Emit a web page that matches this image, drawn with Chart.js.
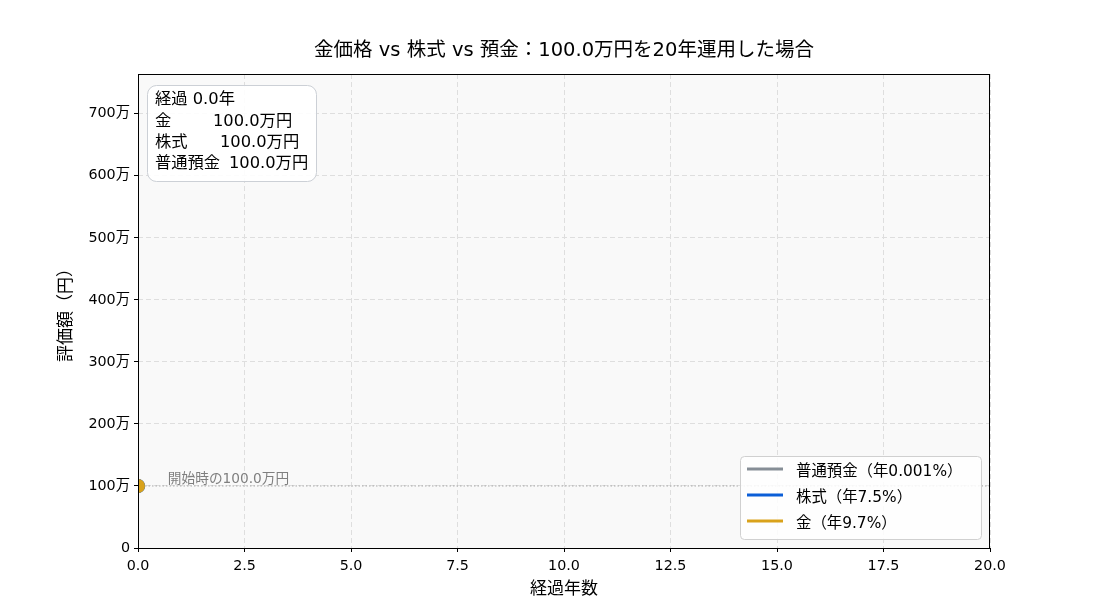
<!DOCTYPE html>
<html>
<head>
<meta charset="utf-8">
<script src="https://cdn.jsdelivr.net/npm/chart.js"></script>
<style>
  html, body { margin: 0; padding: 0; background: #fff; }
  #wrap { width: 1100px; height: 616px; }
</style>
</head>
<body>
<div id="wrap"><canvas id="myChart" width="1100" height="616"></canvas></div>
<script>
    // Data (values in 万円)
    const years = [0];
    const savings = [100.0];
    const stocks = [100.0];
    const gold = [100.0];
    const startValue = 100.0;
    const elapsed = 0.0;
    const yMax = 764;
    const seriesNames = ['普通預金（年0.001%）', '株式（年7.5%）', '金（年9.7%）'];
    const infoLabels = ['金', '株式', '普通預金'];

    const FONT = '"DejaVu Sans", "Noto Sans CJK JP", sans-serif';
    const GRAY = '#868e96', BLUE = '#0b5ed7', GOLD = '#d9a21b';

    const pts = arr => years.map((x, i) => ({ x: x, y: arr[i] }));

    // Background, frame, texts, legend and info box
    const decor = {
        id: 'decor',
        beforeDraw(chart) {
            const { ctx, chartArea: a } = chart;
            ctx.save();
            ctx.fillStyle = '#f9f9f9';
            ctx.fillRect(a.left, a.top, a.right - a.left, a.bottom - a.top);
            ctx.restore();
        },
        afterDraw(chart) {
            const { ctx, chartArea: a, scales } = chart;
            ctx.save();
            // frame
            ctx.strokeStyle = '#000';
            ctx.lineWidth = 1;
            ctx.strokeRect(a.left + 0.5, a.top + 0.5, a.right - a.left - 1, a.bottom - a.top);

            // title
            ctx.fillStyle = '#000';
            ctx.textAlign = 'center';
            ctx.textBaseline = 'middle';
            ctx.font = '19.5px ' + FONT;
            ctx.fillText('金価格 vs 株式 vs 預金：100.0万円を20年運用した場合', (a.left + a.right) / 2, 51);

            // axis titles
            ctx.font = '17px ' + FONT;
            ctx.fillText('経過年数', (a.left + a.right) / 2, 590);
            ctx.save();
            ctx.translate(67, (a.top + a.bottom) / 2);
            ctx.rotate(-Math.PI / 2);
            ctx.fillText('評価額（円）', 0, 0);
            ctx.restore();

            // start annotation
            ctx.fillStyle = '#7f7f7f';
            ctx.textAlign = 'left';
            ctx.font = '13.7px ' + FONT;
            ctx.fillText('開始時の' + startValue.toFixed(1) + '万円', scales.x.getPixelForValue(0.7), scales.y.getPixelForValue(startValue) - 7);

            // info box
            const bx = 147, by = 85, bw = 169, bh = 96;
            ctx.beginPath();
            ctx.roundRect(bx + 0.5, by + 0.5, bw, bh, 9);
            ctx.fillStyle = 'rgba(255,255,255,0.9)';
            ctx.fill();
            ctx.strokeStyle = '#ccd0d6';
            ctx.stroke();
            ctx.fillStyle = '#000';
            ctx.font = '16.3px ' + FONT;
            ctx.fillText('経過 ' + elapsed.toFixed(1) + '年', 155, 100);
            const last = i => i === 0 ? gold[gold.length - 1] : i === 1 ? stocks[stocks.length - 1] : savings[savings.length - 1];
            const valX = [213, 220, 229];
            infoLabels.forEach((lab, i) => {
                const yy = 122 + i * 21;
                ctx.fillText(lab, 155, yy);
                ctx.fillText(last(i).toFixed(1) + '万円', valX[i], yy);
            });

            // legend
            const lx = 740, ly = 456, lw = 241, lh = 83;
            ctx.beginPath();
            ctx.roundRect(lx + 0.5, ly + 0.5, lw, lh, 4);
            ctx.fillStyle = 'rgba(255,255,255,0.85)';
            ctx.fill();
            ctx.strokeStyle = '#d0d0d0';
            ctx.stroke();
            const cols = [GRAY, BLUE, GOLD];
            seriesNames.forEach((n, i) => {
                const yy = 469 + i * 26;
                ctx.strokeStyle = cols[i];
                ctx.lineWidth = 3;
                ctx.beginPath();
                ctx.moveTo(747, yy);
                ctx.lineTo(783, yy);
                ctx.stroke();
                ctx.fillStyle = '#000';
                ctx.font = '15.4px ' + FONT;
                ctx.fillText(n, 796, yy + 2.5);
            });
            ctx.restore();
        }
    };

    const gridOpts = { color: '#dedede', tickColor: '#000', tickLength: 4, tickBorderDash: [], tickWidth: 1 };

    const ctx = document.getElementById('myChart').getContext('2d');
    const myChart = new Chart(ctx, {
        type: 'line',
        data: {
            datasets: [
                { label: '金', data: pts(gold), borderColor: GOLD, backgroundColor: GOLD, borderWidth: 3, pointRadius: 7, pointBorderWidth: 0, order: 0 },
                { label: '株式', data: pts(stocks), borderColor: BLUE, backgroundColor: BLUE, borderWidth: 3, pointRadius: 7, pointBorderWidth: 0, order: 1 },
                { label: '普通預金', data: pts(savings), borderColor: GRAY, backgroundColor: GRAY, borderWidth: 3, pointRadius: 7, pointBorderWidth: 0, order: 2 },
                { label: '開始', data: [{ x: 0, y: startValue }, { x: 20, y: startValue }], borderColor: '#a8a8a8', borderWidth: 1, borderDash: [1.5, 2], pointRadius: 0, order: 3 }
            ]
        },
        options: {
            responsive: false,
            animation: false,
            layout: { padding: { top: 74, right: 110, left: 0, bottom: 0 } },
            plugins: { legend: { display: false }, title: { display: false }, tooltip: { enabled: false } },
            scales: {
                x: {
                    type: 'linear', min: 0, max: 20,
                    afterFit: s => { s.height = 68; },
                    border: { display: false, dash: [5, 3] },
                    grid: gridOpts,
                    ticks: { stepSize: 2.5, color: '#000', padding: 6, font: { size: 14.3, family: FONT }, callback: v => v.toFixed(1) }
                },
                y: {
                    min: 0, max: yMax,
                    afterFit: s => { s.width = 138; },
                    border: { display: false, dash: [5, 3] },
                    grid: gridOpts,
                    ticks: { stepSize: 100, includeBounds: false, color: '#000', padding: 4, font: { size: 14.3, family: FONT }, callback: v => v === 0 ? '0' : v + '万' }
                }
            }
        },
        plugins: [decor]
    });
</script>
</body>
</html>
